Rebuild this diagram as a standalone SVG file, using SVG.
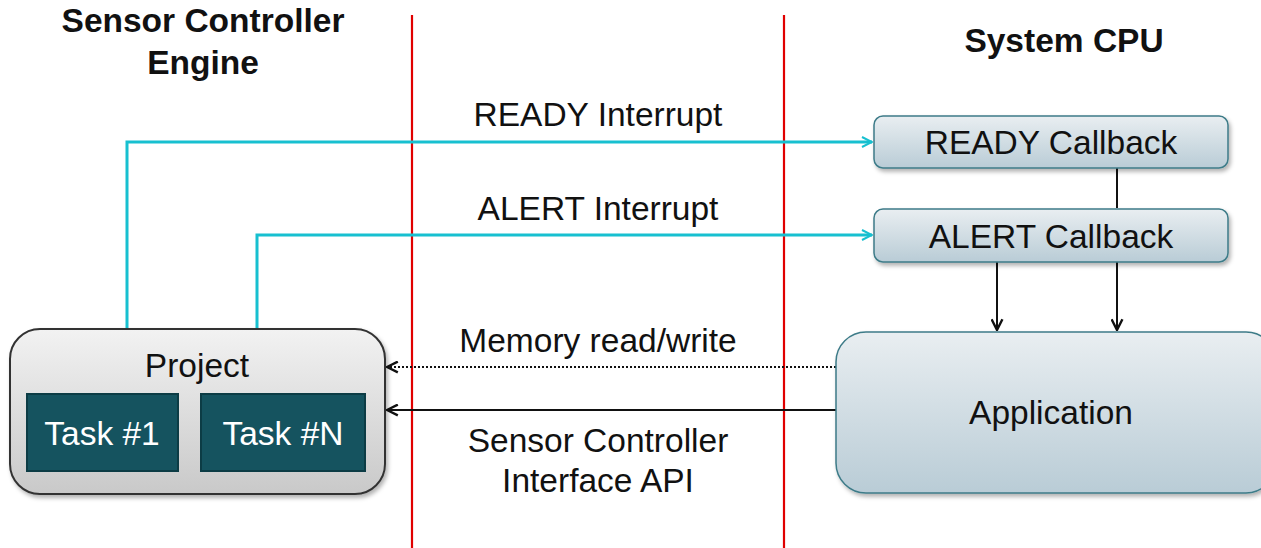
<svg xmlns="http://www.w3.org/2000/svg" width="1261" height="548" viewBox="0 0 1261 548">
<style>
text{font-family:"Liberation Sans",Arial,sans-serif;font-size:33.5px;fill:#111;text-anchor:middle}
.b{font-weight:bold}
.w{fill:#fff}
.red{stroke:#e00000;stroke-width:2.2;fill:none}
.cy{stroke:#17c0d0;stroke-width:3;fill:none}
.blk{stroke:#111;stroke-width:2;fill:none}
.task{fill:#15535f;stroke:#0c3c45;stroke-width:2}
.cb{fill:url(#gb);stroke:#3d7b88;stroke-width:1.5}
</style>
<defs>
<linearGradient id="gg" x1="0" y1="0" x2="0" y2="1"><stop offset="0" stop-color="#f2f2f2"/><stop offset="1" stop-color="#c9c9c9"/></linearGradient>
<linearGradient id="gb" x1="0" y1="0" x2="0" y2="1"><stop offset="0" stop-color="#e9eef1"/><stop offset="1" stop-color="#b9ccd6"/></linearGradient>
<filter id="sh" x="-10%" y="-10%" width="120%" height="130%"><feDropShadow dx="2" dy="3" stdDeviation="2" flood-color="#000" flood-opacity="0.3"/></filter>
<marker id="ac" viewBox="0 0 12 12" refX="11" refY="6" markerWidth="12" markerHeight="12" markerUnits="userSpaceOnUse" orient="auto"><path d="M1,1 L11,6 L1,11" fill="none" stroke="#17c0d0" stroke-width="2"/></marker>
<marker id="ak" viewBox="0 0 12 12" refX="11" refY="6" markerWidth="13" markerHeight="13" markerUnits="userSpaceOnUse" orient="auto"><path d="M1,1 L11,6 L1,11" fill="none" stroke="#111" stroke-width="2.2"/></marker>
</defs>
<rect width="1261" height="548" fill="#fff"/>
<g id="dividers">
<line class="red" x1="412" y1="15" x2="412" y2="548"/>
<line class="red" x1="784" y1="15" x2="784" y2="548"/>
</g>
<g id="headers">
<text class="b" x="203" y="32">Sensor Controller</text>
<text class="b" x="203" y="74">Engine</text>
<text class="b" x="1064" y="52">System CPU</text>
</g>
<g id="connectors">
<polyline class="cy" points="127,329 127,142 872,142" marker-end="url(#ac)"/>
<polyline class="cy" points="257,329 257,235 872,235" marker-end="url(#ac)"/>
<line class="blk" x1="1117" y1="168" x2="1117" y2="208"/>
<line class="blk" x1="997" y1="262" x2="997" y2="330" marker-end="url(#ak)"/>
<line class="blk" x1="1117" y1="262" x2="1117" y2="330" marker-end="url(#ak)"/>
<line class="blk" x1="836" y1="367" x2="387" y2="367" stroke-dasharray="2,2" marker-end="url(#ak)"/>
<line class="blk" x1="836" y1="410" x2="387" y2="410" marker-end="url(#ak)"/>
<text x="598" y="126">READY Interrupt</text>
<text x="598" y="220">ALERT Interrupt</text>
<text x="598" y="352">Memory read/write</text>
<text x="598" y="452">Sensor Controller</text>
<text x="598" y="492">Interface API</text>
</g>
<g id="project">
<rect x="10" y="329" width="375" height="165" rx="30" fill="url(#gg)" stroke="#333" stroke-width="2" filter="url(#sh)"/>
<text x="197" y="377">Project</text>
</g>
<g id="task1">
<rect class="task" x="27" y="394" width="151" height="77"/>
<text class="w" x="102" y="445">Task #1</text>
</g>
<g id="taskN">
<rect class="task" x="201" y="394" width="164" height="77"/>
<text class="w" x="283" y="445">Task #N</text>
</g>
<g id="ready">
<rect class="cb" x="874" y="116" width="354" height="52" rx="9" filter="url(#sh)"/>
<text x="1051" y="154">READY Callback</text>
</g>
<g id="alert">
<rect class="cb" x="874" y="209" width="354" height="53" rx="9" filter="url(#sh)"/>
<text x="1051" y="248">ALERT Callback</text>
</g>
<g id="application">
<rect class="cb" x="836" y="332" width="440" height="161" rx="30" filter="url(#sh)"/>
<text x="1051" y="424">Application</text>
</g>
</svg>
